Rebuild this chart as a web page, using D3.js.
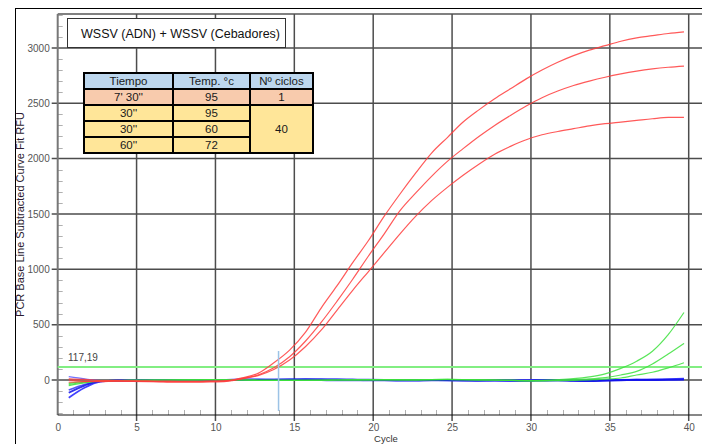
<!DOCTYPE html>
<html>
<head>
<meta charset="utf-8">
<script src="https://cdn.jsdelivr.net/npm/d3@7"></script>
<style>
  html, body { margin: 0; padding: 0; background: #fff; }
  svg { display: block; }
  text { font-family: "Liberation Sans", Arial, sans-serif; }
</style>
</head>
<body>
<script>
// Amplification cycles (fitted curve samples)
const cycles = [0.7, 1.7, 2.7, 3.7, 4.7, 5.7, 6.7, 7.7, 8.7, 9.7,
  10.7, 11.7, 12.7, 13.7, 14.7, 15.7, 16.7, 17.7, 18.7, 19.7,
  20.7, 21.7, 22.7, 23.7, 24.7, 25.7, 26.7, 27.7, 28.7, 29.7,
  30.7, 31.7, 32.7, 33.7, 34.7, 35.7, 36.7, 37.7, 38.7, 39.7];

// Positive samples (red)
const red1 = [10, 5, -5, -5, -8, -8, -10, -12, -12, -10, -5, 20, 60, 155, 270, 430, 650, 850, 1060, 1260,
  1480, 1680, 1870, 2050, 2190, 2330, 2440, 2540, 2630, 2720, 2800, 2870, 2930, 2980, 3020, 3060, 3090, 3110, 3130, 3145];
const red2 = [0, -10, -15, -10, -10, -12, -15, -15, -15, -12, -8, 15, 45, 110, 210, 350, 520, 710, 910, 1120,
  1320, 1530, 1690, 1840, 1975, 2090, 2200, 2300, 2390, 2475, 2550, 2610, 2660, 2700, 2735, 2765, 2790, 2810, 2825, 2836];
const red3 = [-20, -15, -10, -10, -12, -15, -18, -20, -20, -18, -12, 10, 40, 95, 180, 300, 450, 630, 810, 980,
  1150, 1320, 1480, 1620, 1740, 1850, 1950, 2040, 2110, 2170, 2215, 2245, 2270, 2295, 2315, 2330, 2345, 2360, 2372, 2373];

// Late-rising samples (green)
const green1 = [-40, -20, -8, -5, -3, -2, 0, 0, 2, 3, 2, 0, -2, -3, -3, -2, -2, 0, 2, 3,
  3, 2, 2, 4, 5, 4, 2, 0, -3, -5, -3, 3, 12, 28, 55, 105, 170, 260, 410, 610];
const green2 = [-50, -25, -10, -6, -4, -2, 0, 1, 2, 3, 2, 0, -3, -4, -4, -3, -2, 0, 1, 2,
  3, 3, 2, 4, 5, 3, 1, 0, -4, -6, -5, -2, 3, 10, 22, 45, 78, 145, 235, 331];
const green3 = [-30, -15, -8, -5, -3, -1, 0, 1, 1, 2, 1, 0, -2, -3, -3, -2, -1, 0, 1, 2,
  2, 2, 1, 3, 4, 3, 1, -1, -4, -7, -8, -6, -3, 2, 8, 18, 45, 70, 110, 156];

// Negative samples (blue)
const blue1 = [-160, -70, -15, -5, -5, -3, -2, 0, 0, 0, 2, 5, 5, 5, 5, 8, 8, 8, 5, 3,
  0, -5, -5, 0, 0, 0, -5, -5, -8, -8, -5, -3, -5, -8, -5, 0, 3, 5, 8, 12];
const blue2 = [-115, -50, -10, -5, -5, -3, -2, 0, 0, 0, 0, 0, 2, 2, 5, 5, 3, 0, 0, -2,
  -2, -3, -3, -2, -2, -5, -5, -3, -5, -5, -3, -2, -8, -10, -5, -3, 0, 0, 3, 5];
const blue3 = [30, 10, -5, -8, -5, -3, -2, 0, 0, -2, -3, 5, 5, 0, 0, -2, -2, -2, -3, -3,
  -2, -2, -2, -3, -5, -5, -5, -5, -5, -5, -3, -3, -2, -2, 0, 0, -2, 0, 2, 3];
const blue4 = [-90, -40, -12, -6, -4, -2, 0, 2, 2, 0, -2, 0, 3, 3, 2, 0, -2, -4, -4, -2,
  0, 2, 2, 0, -2, -4, -4, -2, 0, 2, 2, 0, -4, -6, -2, 2, 4, 2, 0, 2];

const threshold = 117.19;
const thresholdLabel = "117,19";
const markerCycle = 14;
const markerRange = [-280, 262];

const xTicks = [0, 5, 10, 15, 20, 25, 30, 35, 40];
const yTicks = [0, 500, 1000, 1500, 2000, 2500, 3000];

const titleText = "WSSV (ADN) + WSSV (Cebadores)";
const tableHeader = ["Tiempo", "Temp. °c", "Nº ciclos"];
const tableRows = [
  ["7' 30''", "95", "1"],
  ["30''", "95", "40"],
  ["30''", "60", ""],
  ["60''", "72", ""]
];

const W = 702, H = 444;
const svg = d3.select("body").append("svg").attr("width", W).attr("height", H);

const x = d3.scaleLinear().domain([0, 40]).range([57.7, 688.7]);
const y = d3.scaleLinear().domain([-316, 3306]).range([415, 14]);

// outer frame
svg.append("line").attr("x1", 15.5).attr("x2", 15.5).attr("y1", 8).attr("y2", H).attr("stroke", "#000").attr("stroke-width", 1);
svg.append("line").attr("x1", 15).attr("x2", W).attr("y1", 8.5).attr("y2", 8.5).attr("stroke", "#000").attr("stroke-width", 1);

// plot top edge
svg.append("line").attr("x1", x(0)).attr("x2", W).attr("y1", 14).attr("y2", 14)
  .attr("stroke", "#808080").attr("stroke-width", 2);

// minor ticks
const minorY = d3.range(-300, 3301, 100).filter(v => v % 500 !== 0);
svg.append("g").selectAll("line").data(minorY).join("line")
  .attr("x1", x(0)).attr("x2", x(0) + 5)
  .attr("y1", d => Math.round(y(d)) + 0.5).attr("y2", d => Math.round(y(d)) + 0.5)
  .attr("stroke", "#b0b0b0").attr("stroke-width", 1);
const minorX = d3.range(1, 40).filter(v => v % 5 !== 0);
svg.append("g").selectAll("line").data(minorX).join("line")
  .attr("x1", d => Math.round(x(d)) + 0.5).attr("x2", d => Math.round(x(d)) + 0.5)
  .attr("y1", y(-316) - 5).attr("y2", y(-316))
  .attr("stroke", "#b0b0b0").attr("stroke-width", 1);

// grid
svg.append("g").selectAll("line").data(yTicks).join("line")
  .attr("x1", x(0) - 6).attr("x2", W)
  .attr("y1", d => y(d)).attr("y2", d => y(d))
  .attr("stroke", "#4d4d4d").attr("stroke-width", 1.5);
svg.append("g").selectAll("line").data(xTicks.filter(d => d > 0)).join("line")
  .attr("x1", d => x(d)).attr("x2", d => x(d))
  .attr("y1", 14).attr("y2", y(-316) + 6)
  .attr("stroke", "#4d4d4d").attr("stroke-width", 1.5);

// axes lines
svg.append("line").attr("x1", x(0)).attr("x2", x(0)).attr("y1", 14).attr("y2", y(-316))
  .attr("stroke", "#777").attr("stroke-width", 2);
svg.append("line").attr("x1", x(0)).attr("x2", W).attr("y1", y(-316)).attr("y2", y(-316))
  .attr("stroke", "#111").attr("stroke-width", 1.2);

// tick labels
const yAxis = d3.axisLeft(y).tickValues(yTicks).tickFormat(d3.format("d")).tickSize(0).tickPadding(8);
const gy = svg.append("g").attr("transform", `translate(${x(0)},0)`).call(yAxis);
gy.select(".domain").remove();
gy.selectAll("text").attr("font-size", 10).attr("fill", "#555").attr("font-family", "Liberation Sans, Arial, sans-serif");

const xAxis = d3.axisBottom(x).tickValues(xTicks).tickFormat(d3.format("d")).tickSize(0).tickPadding(9);
const gx = svg.append("g").attr("transform", `translate(0,${y(-316)})`).call(xAxis);
gx.select(".domain").remove();
gx.selectAll("text").attr("font-size", 10).attr("fill", "#555").attr("font-family", "Liberation Sans, Arial, sans-serif");

// axis titles
svg.append("text").attr("transform", `translate(24,${(14 + 415) / 2}) rotate(-90)`)
  .attr("text-anchor", "middle").attr("font-size", 11).attr("fill", "#2a1a30")
  .text("PCR Base Line Subtracted Curve Fit RFU");
svg.append("text").attr("x", 386).attr("y", 441.5).attr("text-anchor", "middle")
  .attr("font-size", 9.5).attr("fill", "#333").text("Cycle");

// threshold line
svg.append("line").attr("x1", x(0)).attr("x2", W).attr("y1", y(threshold)).attr("y2", y(threshold))
  .attr("stroke", "#82ee82").attr("stroke-width", 2);
svg.append("text").attr("x", 68).attr("y", y(threshold) - 6).attr("font-size", 10)
  .attr("fill", "#444").text(thresholdLabel);

// curves
const line = d3.line().x((d, i) => x(cycles[i])).y(d => y(d)).curve(d3.curveMonotoneX);
const series = [
  { v: blue3, c: "#5a5aff", w: 1.3 },
  { v: blue4, c: "#3a3af5", w: 1.6 },
  { v: blue1, c: "#2020ff", w: 1.8 },
  { v: blue2, c: "#1010e8", w: 1.8 },
  { v: green3, c: "#3ce03c", w: 1.2 },
  { v: green2, c: "#3ce03c", w: 1.2 },
  { v: green1, c: "#3ce03c", w: 1.2 },
  { v: red3, c: "#ff3c3c", w: 1.2 },
  { v: red2, c: "#ff3c3c", w: 1.2 },
  { v: red1, c: "#ff3c3c", w: 1.2 }
];
svg.append("g").selectAll("path").data(series).join("path")
  .attr("d", d => line(d.v)).attr("fill", "none")
  .attr("stroke", d => d.c).attr("stroke-width", d => d.w).attr("stroke-opacity", 0.85);

// cycle marker
svg.append("line").attr("x1", x(markerCycle)).attr("x2", x(markerCycle))
  .attr("y1", y(markerRange[1])).attr("y2", y(markerRange[0]))
  .attr("stroke", "#9cc3e6").attr("stroke-width", 1.5);

// title box
svg.append("rect").attr("x", 67.5).attr("y", 18.5).attr("width", 218).attr("height", 29)
  .attr("fill", "#fff").attr("stroke", "#333").attr("stroke-width", 1);
svg.append("text").attr("x", 81).attr("y", 38).attr("font-size", 12.5).attr("fill", "#111")
  .attr("font-family", "Carlito, 'Open Sans', 'Liberation Sans', sans-serif").text(titleText);

// cycling protocol table
const colX = [84, 173, 250, 313];
const rowY = [73, 89, 105, 121, 137, 153];
const tg = svg.append("g").attr("font-size", 11.5).attr("fill", "#111");
const cellText = (txt, x0, x1, y0, y1) => tg.append("text")
  .attr("x", (x0 + x1) / 2).attr("y", (y0 + y1) / 2 + 4).attr("text-anchor", "middle")
  .attr("fill", "#1a1a1a").text(txt);
const cell = (x0, x1, y0, y1, fill) => tg.append("rect")
  .attr("x", x0).attr("y", y0).attr("width", x1 - x0).attr("height", y1 - y0)
  .attr("fill", fill).attr("stroke", "#000").attr("stroke-width", 2);

tableHeader.forEach((h, j) => cell(colX[j], colX[j + 1], rowY[0], rowY[1], "#bdd7ee"));
tableRows.forEach((r, i) => {
  const fill = i === 0 ? "#f8cbad" : "#ffe699";
  cell(colX[0], colX[1], rowY[i + 1], rowY[i + 2], fill);
  cell(colX[1], colX[2], rowY[i + 1], rowY[i + 2], fill);
  if (i === 0) cell(colX[2], colX[3], rowY[1], rowY[2], fill);
});
cell(colX[2], colX[3], rowY[2], rowY[5], "#ffe699");

tableHeader.forEach((h, j) => cellText(h, colX[j], colX[j + 1], rowY[0], rowY[1]));
tableRows.forEach((r, i) => {
  cellText(r[0], colX[0], colX[1], rowY[i + 1], rowY[i + 2]);
  cellText(r[1], colX[1], colX[2], rowY[i + 1], rowY[i + 2]);
});
cellText(tableRows[0][2], colX[2], colX[3], rowY[1], rowY[2]);
cellText(tableRows[1][2], colX[2], colX[3], rowY[2], rowY[5]);
</script>
</body>
</html>
